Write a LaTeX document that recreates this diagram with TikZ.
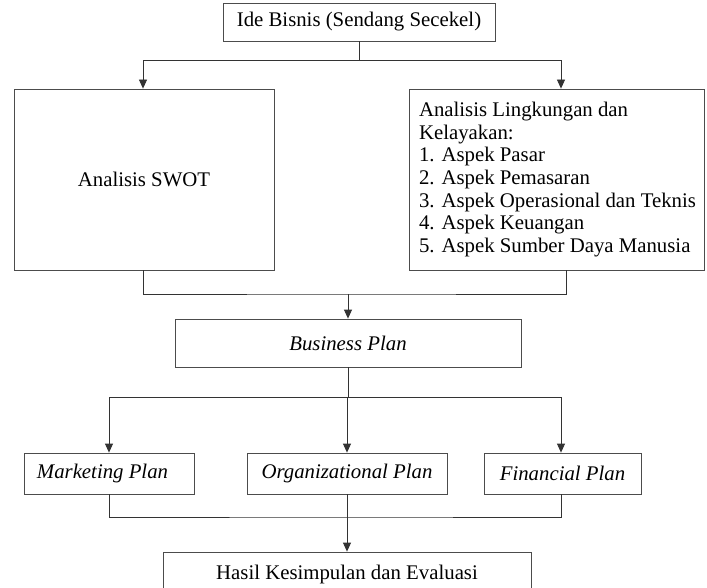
\documentclass[tikz,border=0pt]{standalone}
\usepackage{fontspec}
\setmainfont{Liberation Serif}
\usetikzlibrary{arrows.meta}
\tikzset{
  box/.style={draw=black!70, line width=0.8pt, inner sep=0pt, align=center,
    font=\fontsize{20.8}{22.7}\selectfont},
  conn/.style={draw=black!80, line width=0.8pt},
  arr/.style={conn, -{Triangle[width=8pt,length=9pt]}}
}
\begin{document}
\begin{tikzpicture}[x=1pt,y=-1pt]
\useasboundingbox (0,0) rectangle (707,588);
\fill[white] (0,0) rectangle (707,588);
\clip (0,0) rectangle (707,588);

\node[box, minimum width=272pt, minimum height=38pt] (ide) at (359,22) {Ide Bisnis (Sendang Secekel)};
\node[box, minimum width=260pt, minimum height=181pt] (swot) at (144,179.5) {Analisis SWOT};
\node[box, minimum width=295pt, minimum height=181pt] (ling) at (556.5,179.5)
  {\hspace*{10pt}\parbox{285pt}{\raggedright Analisis Lingkungan dan\\Kelayakan:\\1. Aspek Pasar\\2. Aspek Pemasaran\\3. Aspek Operasional dan Teknis\\4. Aspek Keuangan\\5. Aspek Sumber Daya Manusia}};
\node[box, minimum width=346pt, minimum height=48pt] (bp) at (348,343) {\itshape Business Plan};
\node[box, minimum width=170pt, minimum height=41pt] (mk) at (109,473.5) {\itshape Marketing Plan\hspace*{13pt}};
\node[box, minimum width=200pt, minimum height=41pt] (org) at (347,473.5) {\itshape Organizational Plan};
\node[box, minimum width=157pt, minimum height=41pt] (fin) at (562.5,473.5) {\itshape Financial Plan};
\node[box, minimum width=368pt, minimum height=44pt] (hasil) at (347,574) {Hasil Kesimpulan dan Evaluasi};

\coordinate (j1) at (359,60);
\coordinate (j2) at (348,294);
\coordinate (j3) at (348,397);
\coordinate (j4) at (347,517);

\draw[conn] (ide.south) -- (j1);
\draw[arr] (j1) -| ([xshift=-1pt]swot.north);
\draw[arr] (j1) -| ([xshift=4.5pt]ling.north);

\draw[conn] ([xshift=-1pt]swot.south) |- (j2) -| ([xshift=9.5pt]ling.south);
\draw[arr] (j2) -- (bp.north);

\draw[conn] (bp.south) -- (j3);
\draw[arr] (j3) -| (mk.north);
\draw[arr] (j3) -| (org.north);
\draw[arr] (j3) -| ([xshift=-1.5pt]fin.north);

\draw[conn] (mk.south) |- (j4) -| ([xshift=-1.5pt]fin.south);
\draw[conn] (org.south) -- (j4);
\draw[arr] (j4) -- (hasil.north);
\end{tikzpicture}
\end{document}
